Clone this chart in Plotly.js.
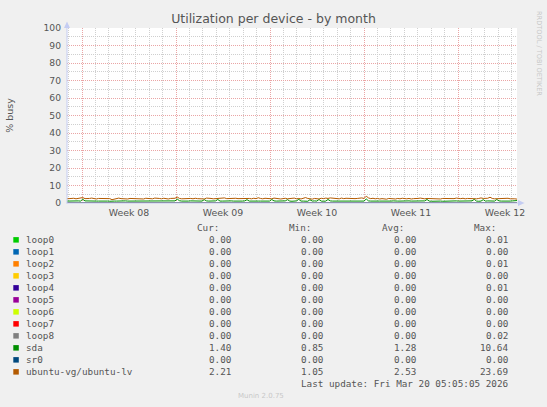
<!DOCTYPE html>
<html><head><meta charset="utf-8">
<script src="https://cdn.plot.ly/plotly-3.0.1.min.js"></script>
<style>html,body{margin:0;padding:0;background:#f0f0f0;overflow:hidden}#chart{width:547px;height:407px}</style>
</head><body><div id="chart"></div>
<script>
// ---- data ----
const seriesNames = ['loop0','loop1','loop2','loop3','loop4','loop5','loop6','loop7','loop8','sda','sr0','ubuntu-vg/ubuntu-lv'];
const seriesColors = ['#00CC00','#0066B3','#FF8000','#FFCC00','#330099','#990099','#CCFF00','#FF0000','#808080','#008F00','#00487D','#B35A00'];
const curValues = ['0.00','0.00','0.00','0.00','0.00','0.00','0.00','0.00','0.00','1.40','0.00','2.21'];
const minValues = ['0.00','0.00','0.00','0.00','0.00','0.00','0.00','0.00','0.00','0.85','0.00','1.05'];
const avgValues = ['0.00','0.00','0.00','0.00','0.00','0.00','0.00','0.00','0.00','1.28','0.00','2.53'];
const maxValues = ['0.01','0.00','0.01','0.00','0.01','0.00','0.00','0.00','0.02','10.64','0.00','23.69'];
const statHeaders = ['Cur:','Min:','Avg:','Max:'];
const weekLabels = ['Week 08','Week 09','Week 10','Week 11','Week 12'];
const weekLabelDates = ['2026-02-19 12:00','2026-02-26 12:00','2026-03-05 12:00','2026-03-12 12:00','2026-03-19 12:00'];
const weekStartDates = ['2026-02-16','2026-02-23','2026-03-02','2026-03-09','2026-03-16'];
const rangeStart = '2026-02-14 21:11:29';
const rangeEnd = '2026-03-20 09:26:48';
const yTicks = [0,10,20,30,40,50,60,70,80,90,100];
const zeroSeriesValues = [0, 0];
// sda, 4-hourly samples
const sdaValues = [
1.1,1.2,1.1,1.0,1.1,1.2, 1.1,2.1,1.2,1.1,1.0,1.1, 1.2,1.1,1.1,1.2,1.0,1.1, 1.1,1.0,1.2,1.1,1.1,1.2,
1.0,1.1,1.2,1.1,1.1,1.0, 1.2,1.1,1.1,1.0,1.2,1.1, 1.1,1.2,1.0,1.1,1.1,1.2, 1.1,1.0,1.1,1.2,1.1,1.1,
1.2,2.2,1.3,1.1,1.0,1.1, 1.1,1.2,1.1,1.0,1.1,1.2, 1.1,1.9,1.2,1.1,1.0,1.1, 1.2,2.0,1.1,1.1,1.2,1.0,
1.1,1.2,1.1,1.0,1.1,1.2, 1.1,1.2,1.9,1.1,1.0,1.1, 1.2,1.1,1.1,1.2,1.0,1.1, 1.1,2.0,1.2,1.1,1.1,1.0,
1.1,1.2,1.9,1.1,1.0,1.1, 1.2,2.1,1.1,1.1,1.2,1.0, 1.9,1.1,1.2,1.1,2.0,1.1, 1.0,1.1,2.0,1.2,1.1,1.1,
1.2,1.1,1.0,1.1,1.2,1.1, 1.1,1.0,1.2,1.1,1.1,1.2, 1.1,2.3,1.2,1.1,1.0,1.1, 1.2,1.1,1.1,1.0,1.1,1.2,
1.1,1.2,1.0,1.1,1.1,1.2, 1.1,1.0,1.2,1.1,1.1,1.0, 1.2,1.1,1.1,1.2,2.0,1.1, 1.0,1.1,1.2,1.1,1.1,1.0,
1.1,1.2,1.1,1.0,1.1,1.2, 1.1,1.1,1.0,1.2,1.1,1.1, 1.2,2.1,1.1,1.0,1.1,1.9, 1.1,1.2,1.1,1.0,1.1,2.0,
1.2,1.1,1.0,1.1,1.2,1.1, 1.2,1.1,1.4];
// ubuntu-vg/ubuntu-lv, 4-hourly samples
const lvValues = [
2.4,2.6,2.5,2.7,2.4,2.5, 2.6,3.1,2.5,2.4,2.6,2.8, 2.5,2.3,2.6,2.5,2.7,2.4, 2.2,2.5,1.9,2.3,2.6,2.8,
2.5,2.4,2.7,2.3,2.6,2.5, 2.8,2.4,2.6,2.5,2.3,2.7, 2.5,2.6,2.4,2.8,2.5,2.6, 2.4,2.7,2.5,2.3,2.6,2.5,
2.7,3.4,2.6,2.4,2.5,2.3, 2.5,2.6,2.4,2.7,2.5,2.4, 2.6,2.3,2.8,2.5,2.6,2.4, 2.5,2.7,2.4,2.6,2.9,2.5,
2.6,2.4,2.5,2.7,2.5,2.6, 2.4,2.8,2.5,2.6,2.4,2.7, 2.5,3.0,2.6,2.4,2.7,2.5, 2.6,2.4,2.8,2.5,2.6,2.3,
2.5,2.7,2.4,2.6,2.5,2.8, 2.4,2.6,2.3,2.5,3.1,2.6, 2.4,2.2,2.6,2.5,2.3,2.7, 2.5,2.8,2.6,2.9,2.7,2.5,
2.6,2.4,2.8,2.5,2.7,2.6, 2.4,2.7,2.5,2.6,2.8,2.9, 2.6,3.9,2.9,2.5,2.7,2.4, 2.6,2.3,2.5,2.4,2.2,2.6,
2.4,2.5,2.3,2.6,2.4,2.7, 2.5,2.4,2.6,2.3,2.5,2.4, 2.6,2.8,2.5,2.4,2.6,2.5, 2.7,2.4,2.6,2.5,2.3,2.6,
2.5,2.7,2.4,2.6,2.5,2.8, 2.6,2.5,2.7,2.4,2.6,2.5, 2.8,2.5,2.4,2.6,2.9,2.6, 2.5,2.7,3.3,2.6,2.4,2.5,
2.3,2.6,2.4,2.5,2.7,2.4, 2.5,2.4,2.2];

// ---- layout helpers ----
const ML = 67, MT = 28, PW = 450, PH = 175, W = 547, H = 407;
const px = v => (v - ML) / PW;
const py = v => (MT + PH - v) / PH;
const toStamp = ms => new Date(ms).toISOString().slice(0, 19).replace('T', ' ');
const t0 = Date.parse(rangeStart.replace(' ', 'T') + 'Z');
const t1 = Date.parse(rangeEnd.replace(' ', 'T') + 'Z');
const sampleTimes = (vals) => vals.map((_, i) => toStamp(t0 + (t1 - t0) * i / (vals.length - 1)));

const traces = [];
seriesNames.forEach((name, i) => {
  let xs, ys;
  if (name === 'sda') { ys = sdaValues; xs = sampleTimes(sdaValues); }
  else if (name === 'ubuntu-vg/ubuntu-lv') { ys = lvValues; xs = sampleTimes(lvValues); }
  else { ys = zeroSeriesValues; xs = [rangeStart, rangeEnd]; }
  traces.push({ type: 'scatter', mode: 'lines', name: name, x: xs, y: ys,
    line: { color: seriesColors[i], width: 1 }, showlegend: false, hoverinfo: 'skip' });
});
// empty trace on the overlay axis carrying the week labels
traces.push({ type: 'scatter', mode: 'lines', x: [rangeStart, rangeEnd], y: [null, null], xaxis: 'x2', showlegend: false, hoverinfo: 'skip' });

const TXT = '#555555';
const mono = { family: 'DejaVu Sans Mono', size: 9.3, color: TXT };
const annotations = [];
const shapes = [];
const statCols = [curValues, minValues, avgValues, maxValues];
const valueRight = [231.7, 324, 416.7, 509];
const headerRight = [220, 312.3, 404.7, 497.3];
const headerY = 227.8, row0 = 239.8, rowStep = 12;
statHeaders.forEach((h, c) => annotations.push({ xref: 'paper', yref: 'paper', x: px(headerRight[c]), y: py(headerY),
  xanchor: 'right', yanchor: 'middle', text: h, showarrow: false, font: mono, borderpad: 0 }));
seriesNames.forEach((name, i) => {
  const yc = row0 + i * rowStep;
  shapes.push({ type: 'rect', xref: 'paper', yref: 'paper', x0: px(13.3), x1: px(18.8), y0: py(yc - 2.7), y1: py(yc + 2.8),
    fillcolor: seriesColors[i], line: { width: 0 } });
  annotations.push({ xref: 'paper', yref: 'paper', x: px(25), y: py(yc), xanchor: 'left', yanchor: 'middle',
    text: name, showarrow: false, font: mono, borderpad: 0 });
  statCols.forEach((col, c) => annotations.push({ xref: 'paper', yref: 'paper', x: px(valueRight[c]), y: py(yc),
    xanchor: 'right', yanchor: 'middle', text: col[i], showarrow: false, font: mono, borderpad: 0 }));
});
annotations.push({ xref: 'paper', yref: 'paper', x: px(509), y: py(383.5), xanchor: 'right', yanchor: 'middle',
  text: 'Last update: Fri Mar 20 05:05:05 2026', showarrow: false, font: mono, borderpad: 0 });
annotations.push({ xref: 'paper', yref: 'paper', x: px(261), y: py(396), xanchor: 'center', yanchor: 'middle',
  text: 'Munin 2.0.75', showarrow: false, font: { family: 'DejaVu Sans', size: 7, color: '#c8c8c8' }, borderpad: 0 });
annotations.push({ xref: 'paper', yref: 'paper', x: px(539), y: py(53), xanchor: 'center', yanchor: 'middle', textangle: 90,
  text: 'RRDTOOL / TOBI OETIKER', showarrow: false, font: { family: 'DejaVu Sans', size: 6.6, color: '#c8c8c8' }, borderpad: 0 });

const AX = '#C4CCF2';
shapes.push({ type: 'line', xref: 'paper', yref: 'paper', x0: px(67), x1: px(67), y0: py(203.5), y1: py(25), line: { color: AX, width: 1 }, layer: 'above' });
shapes.push({ type: 'path', xref: 'paper', yref: 'paper', path: `M ${px(64)},${py(28)} L ${px(67)},${py(21.5)} L ${px(70)},${py(28)} Z`, fillcolor: AX, line: { width: 0 }, layer: 'above' });
shapes.push({ type: 'line', xref: 'paper', yref: 'paper', x0: px(66.5), x1: px(520), y0: py(203), y1: py(203), line: { color: AX, width: 1 }, layer: 'above' });
shapes.push({ type: 'path', xref: 'paper', yref: 'paper', path: `M ${px(518)},${py(200)} L ${px(524.5)},${py(203)} L ${px(518)},${py(206)} Z`, fillcolor: AX, line: { width: 0 }, layer: 'above' });

const layout = {
  width: W, height: H,
  paper_bgcolor: '#f0f0f0', plot_bgcolor: '#ffffff',
  margin: { l: ML, r: W - ML - PW, t: MT, b: H - MT - PH, pad: 0 },
  title: { text: 'Utilization per device - by month', xref: 'container', yref: 'container', x: 0.5, xanchor: 'center',
    y: 1 - 18.5 / H, yanchor: 'middle', font: { family: 'DejaVu Sans', size: 12.5, color: TXT } },
  xaxis: {
    type: 'date', range: [rangeStart, rangeEnd], showline: false, zeroline: false,
    tickmode: 'array', tickvals: weekStartDates, showticklabels: false, ticks: '',
    showgrid: true, gridcolor: '#eaa5a5', griddash: '1px,1px', gridwidth: 1,
    minor: { tick0: '2026-02-15', dtick: 86400000, showgrid: true, gridcolor: '#cfcfcf', griddash: '1px,1px', gridwidth: 1, ticks: '' },
    fixedrange: true
  },
  xaxis2: {
    type: 'date', range: [rangeStart, rangeEnd], overlaying: 'x', anchor: 'y', side: 'bottom',
    tickmode: 'array', tickvals: weekLabelDates, ticktext: weekLabels, ticks: '', showgrid: false,
    zeroline: false, showline: false,
    tickfont: { family: 'DejaVu Sans', size: 9.4, color: TXT }, ticklabelstandoff: 3
  },
  yaxis: {
    range: [0, 100], tickmode: 'array', tickvals: yTicks, ticks: '', showline: false, zeroline: false,
    showgrid: true, gridcolor: '#eaa5a5', griddash: '1px,1px', gridwidth: 1,
    tickfont: { family: 'DejaVu Sans', size: 9.2, color: TXT }, ticklabelstandoff: 5,
    minor: { dtick: 5, showgrid: true, gridcolor: '#cfcfcf', griddash: '1px,1px', gridwidth: 1, ticks: '' },
    title: { text: '% busy', font: { family: 'DejaVu Sans', size: 9.5, color: TXT }, standoff: 28 },
    fixedrange: true
  },
  annotations: annotations,
  shapes: shapes,
  showlegend: false
};
Plotly.newPlot('chart', traces, layout, { displayModeBar: false, staticPlot: true });
</script></body></html>
